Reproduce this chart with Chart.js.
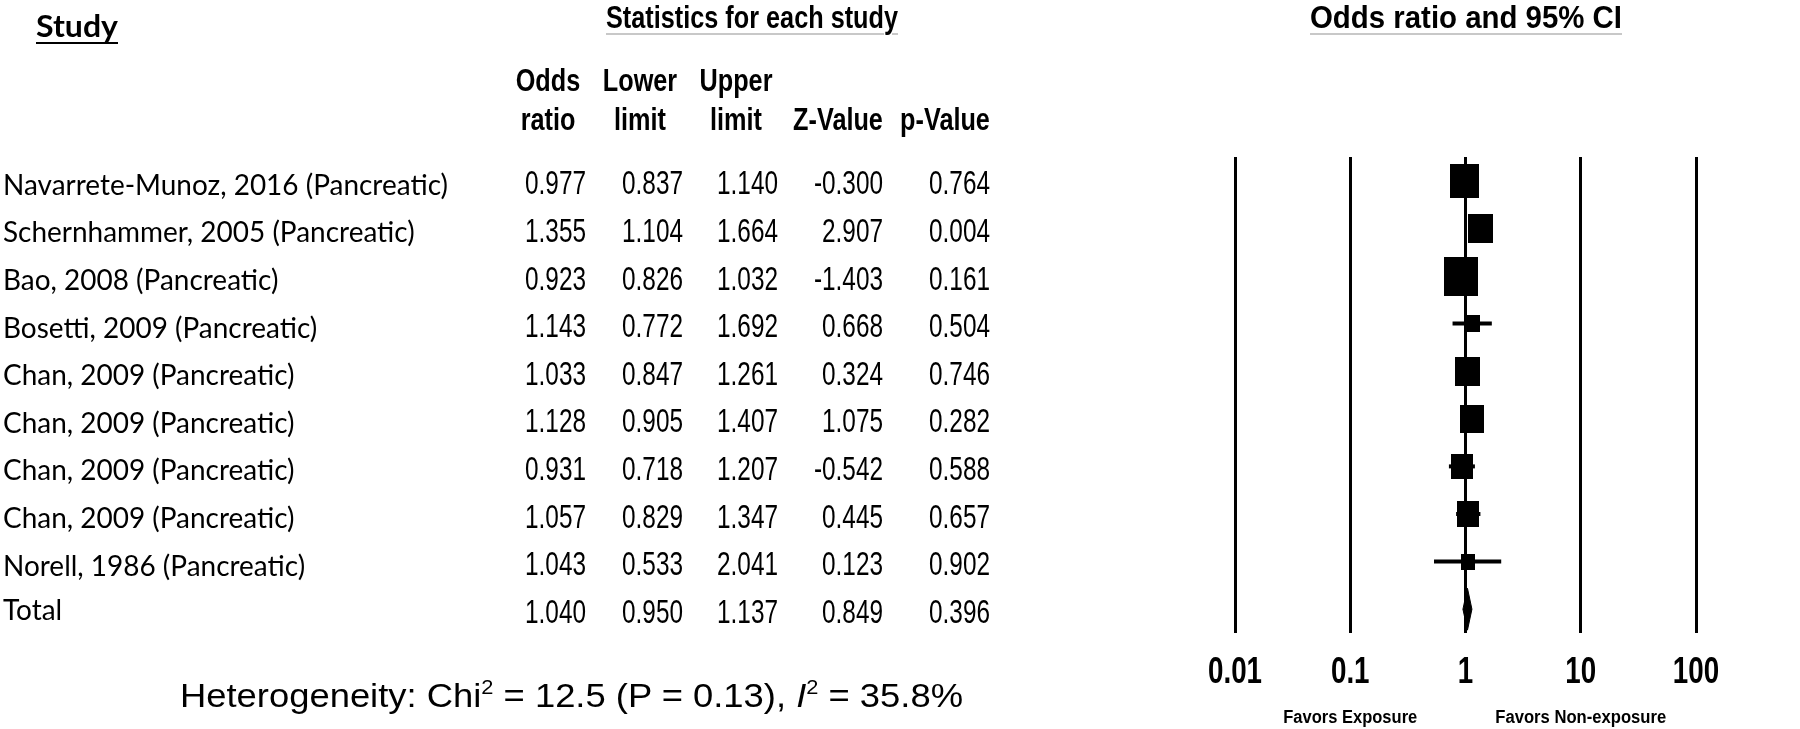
<!DOCTYPE html>
<html>
<head>
<meta charset="utf-8">
<title>Forest plot</title>
<script src="https://cdn.jsdelivr.net/npm/chart.js@4.4.1/dist/chart.umd.min.js"></script>
<style>
  html, body { margin: 0; padding: 0; background: #fff; }
  #page { position: relative; width: 1800px; height: 729px; overflow: hidden; }
  #forest { position: absolute; left: 0; top: 0; }
  #textLayer { position: absolute; left: 0; top: 0; width: 1800px; height: 729px; }
  .txt { position: absolute; left: 0; top: 0; white-space: nowrap; transform-origin: 0 0; color: #000; line-height: 1; }
  .lbl { font-family: Lato, "Open Sans", sans-serif; font-size: 28px; }
  .study { font-family: Lato, "Open Sans", sans-serif; font-size: 30px; font-weight: bold;
           text-decoration: underline 2px #000; text-underline-offset: 5px; }
  .num { font-family: "Liberation Sans", Arial, sans-serif; font-size: 34px; }
  .hdr { font-family: "Liberation Sans", Arial, sans-serif; font-size: 32px; font-weight: bold; }
  .ttl { font-family: "Liberation Sans", Arial, sans-serif; font-size: 32px; font-weight: bold;
         text-decoration: underline 2px #c8c8c8; text-underline-offset: 5px; }
  .tick { font-family: "Liberation Sans", Arial, sans-serif; font-size: 36px; font-weight: bold; }
  .het { font-family: "Liberation Sans", Arial, sans-serif; font-size: 34px; }
  .het sup { font-size: 0.6em; vertical-align: 0; position: relative; top: -0.62em; }
  .fav { font-family: "Liberation Sans", Arial, sans-serif; font-size: 18px; font-weight: bold; }
</style>
</head>
<body>
<div id="page">
  <canvas id="forest" width="1800" height="729"></canvas>
  <div id="textLayer"></div>
</div>
<script>
// study rows
const studies = [
  'Navarrete-Munoz, 2016 (Pancreatic)',
  'Schernhammer, 2005 (Pancreatic)',
  'Bao, 2008 (Pancreatic)',
  'Bosetti, 2009 (Pancreatic)',
  'Chan, 2009 (Pancreatic)',
  'Chan, 2009 (Pancreatic)',
  'Chan, 2009 (Pancreatic)',
  'Chan, 2009 (Pancreatic)',
  'Norell, 1986 (Pancreatic)'
];
const oddsRatio  = [0.977, 1.355, 0.923, 1.143, 1.033, 1.128, 0.931, 1.057, 1.043];
const lowerLimit = [0.837, 1.104, 0.826, 0.772, 0.847, 0.905, 0.718, 0.829, 0.533];
const upperLimit = [1.140, 1.664, 1.032, 1.692, 1.261, 1.407, 1.207, 1.347, 2.041];
const zValue     = [-0.300, 2.907, -1.403, 0.668, 0.324, 1.075, -0.542, 0.445, 0.123];
const pValue     = [0.764, 0.004, 0.161, 0.504, 0.746, 0.282, 0.588, 0.657, 0.902];
// relative weight (%)
const relWeight  = [16.2, 11.9, 21.8, 4.3, 11.9, 11.0, 9.3, 9.7, 3.9];

// pooled row: odds ratio, lower, upper, Z, p
const totalLabel = 'Total';
const totalStats = [1.040, 0.950, 1.137, 0.849, 0.396];

// heterogeneity
const chiSquare = 12.5;
const chiP = 0.13;
const iSquare = 35.8;

// x axis
const tickValues = [0.01, 0.1, 1, 10, 100];
const tickLabels = ['0.01', '0.1', '1', '10', '100'];

const totalRow = studies.length;

// filled box for each study, area follows the weight
function boxImage(w) {
  const side = 8.35 * Math.sqrt(w);
  const c = document.createElement('canvas');
  c.width = Math.max(2, Math.round(side * 0.86));
  c.height = Math.max(2, Math.round(side));
  const g = c.getContext('2d');
  g.fillStyle = '#000';
  g.fillRect(0, 0, c.width, c.height);
  return c;
}

const ciSets = studies.map((s, i) => ({
  type: 'line',
  data: [{ x: lowerLimit[i], y: i }, { x: upperLimit[i], y: i }],
  borderColor: '#000',
  borderWidth: 4,
  borderCapStyle: 'butt',
  pointRadius: 0,
  order: 2
}));

const boxSet = {
  type: 'scatter',
  data: oddsRatio.map((v, i) => ({ x: v, y: i })),
  pointStyle: relWeight.map(boxImage),
  pointRadius: 20,
  order: 0
};

const diamondSet = {
  type: 'line',
  data: [
    { x: totalStats[1], y: totalRow },
    { x: totalStats[0], y: totalRow - 0.44 },
    { x: totalStats[2], y: totalRow },
    { x: totalStats[0], y: totalRow + 0.44 },
    { x: totalStats[1], y: totalRow }
  ],
  borderColor: '#000',
  backgroundColor: '#000',
  borderWidth: 1,
  pointRadius: 0,
  tension: 0,
  fill: 'shape',
  order: 0
};

const chart = new Chart(document.getElementById('forest'), {
  type: 'scatter',
  data: { datasets: [boxSet, diamondSet].concat(ciSets) },
  options: {
    responsive: false,
    animation: false,
    devicePixelRatio: 1,
    layout: { padding: { left: 1235, right: 104, top: 157, bottom: 0 } },
    plugins: { legend: { display: false }, tooltip: { enabled: false } },
    scales: {
      x: {
        type: 'logarithmic',
        min: 0.01,
        max: 100,
        afterBuildTicks: s => { s.ticks = tickValues.map(v => ({ value: v })); },
        afterFit: s => { s.height = 96; },
        // labels are set as condensed text below, at this scale's tick pixels
        ticks: { display: false, autoSkip: false },
        grid: { color: '#000', lineWidth: 3, drawTicks: false },
        border: { display: false }
      },
      y: {
        type: 'linear',
        min: -0.5,
        max: totalRow + 0.5,
        reverse: true,
        display: false
      }
    }
  }
});

// ---- table text ----
const layer = document.getElementById('textLayer');

function makeSpan(html, cls) {
  const el = document.createElement('span');
  el.className = 'txt ' + cls;
  el.innerHTML = html;
  const probe = document.createElement('span');
  probe.style.cssText = 'display:inline-block;width:0;height:0;';
  el.appendChild(probe);
  layer.appendChild(el);
  const box = el.getBoundingClientRect();
  return { el, w: box.width, base: probe.getBoundingClientRect().top - box.top };
}

function place(html, cls, x, base, align, k) {
  const t = makeSpan(html, cls);
  const w = t.w * k;
  const left = align === 'right' ? x - w : align === 'center' ? x - w / 2 : x;
  t.el.style.transform = 'translate(' + left + 'px,' + (base - t.base) + 'px) scaleX(' + k + ')';
}

function fitScale(html, cls, target) {
  const t = makeSpan(html, cls);
  const k = target / t.w;
  layer.removeChild(t.el);
  return k;
}

function drawTable() {
  const yScale = chart.scales.y;
  const xScale = chart.scales.x;
  const kLbl = fitScale(studies[0], 'lbl', 445);
  const kNum = fitScale(oddsRatio[0].toFixed(3), 'num', 61);
  const kHdr = fitScale('Statistics for each study', 'hdr', 292);
  const colRight = [586, 683, 778, 883, 990];

  place('Study', 'study', 36, 37, 'left', fitScale('Study', 'study', 82));
  place('Statistics for each study', 'ttl', 752, 28, 'center', kHdr);
  place('Odds ratio and 95% CI', 'ttl', 1466, 28, 'center', fitScale('Odds ratio and 95% CI', 'ttl', 312));

  const heads = [['Odds', 'ratio', 548], ['Lower', 'limit', 640], ['Upper', 'limit', 736], ['', 'Z-Value', 838], ['', 'p-Value', 945]];
  heads.forEach(h => {
    if (h[0]) place(h[0], 'hdr', h[2], 91, 'center', kHdr);
    place(h[1], 'hdr', h[2], 130, 'center', kHdr);
  });

  studies.forEach((name, i) => {
    const y = yScale.getPixelForValue(i);
    place(name, 'lbl', 3, y + 14, 'left', kLbl);
    [oddsRatio[i], lowerLimit[i], upperLimit[i], zValue[i], pValue[i]].forEach((v, c) => {
      place(v.toFixed(3), 'num', colRight[c], y + 13.5, 'right', kNum);
    });
  });

  const yt = yScale.getPixelForValue(totalRow);
  place(totalLabel, 'lbl', 3, yt + 11, 'left', kLbl);
  totalStats.forEach((v, c) => {
    place(v.toFixed(3), 'num', colRight[c], yt + 13.5, 'right', kNum);
  });

  const het = 'Heterogeneity: Chi<sup>2</sup> = ' + chiSquare.toFixed(1) + ' (P = ' + chiP.toFixed(2) +
              '), <i>I</i><sup>2</sup> = ' + iSquare.toFixed(1) + '%';
  place(het, 'het', 180, 707, 'left', fitScale(het, 'het', 783));

  // axis labels at the log scale's tick positions
  const kTick = fitScale(tickLabels[0], 'tick', 54);
  xScale.ticks.forEach((t, i) => {
    place(tickLabels[i], 'tick', xScale.getPixelForValue(t.value), 683, 'center', kTick);
  });

  place('Favors Exposure', 'fav', xScale.getPixelForValue(0.1), 723, 'center', fitScale('Favors Exposure', 'fav', 134));
  place('Favors Non-exposure', 'fav', xScale.getPixelForValue(10), 723, 'center', fitScale('Favors Non-exposure', 'fav', 171));
}

document.fonts.ready.then(drawTable);
</script>
</body>
</html>
